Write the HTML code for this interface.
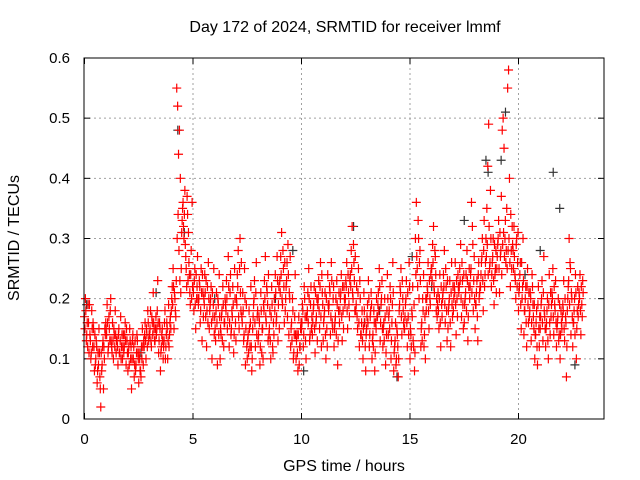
<!DOCTYPE html>
<html><head><meta charset="utf-8"><style>
body{margin:0;background:#fff;}
svg{display:block;font-family:"Liberation Sans",sans-serif;}
</style></head><body>
<svg id="chart" width="640" height="480">
<text x="345" y="32" text-anchor="middle" font-size="16">Day 172 of 2024, SRMTID for receiver lmmf</text>
<text x="344" y="471" text-anchor="middle" font-size="16">GPS time / hours</text>
<text transform="translate(19,238) rotate(-90)" text-anchor="middle" font-size="16">SRMTID / TECUs</text>
<g id="grid"></g>
<g id="ticks"></g>
<g id="black"></g>
<g id="red"></g>
<rect x="84" y="58" width="520" height="361" fill="none" stroke="#000" stroke-width="1"/>
</svg>
<script>
const xTicks=[0,5,10,15,20];
const yTicks=[0,0.1,0.2,0.3,0.4,0.5,0.6];
const yTickLabels=["0","0.1","0.2","0.3","0.4","0.5","0.6"];
const slotHours=[0,0.25,0.5,0.75,1,1.25,1.5,1.75,2,2.25,2.5,2.75,3,3.25,3.5,3.75,4,4.25,4.5,4.75,5,5.25,5.5,5.75,6,6.25,6.5,6.75,7,7.25,7.5,7.75,8,8.25,8.5,8.75,9,9.25,9.5,9.75,10,10.25,10.5,10.75,11,11.25,11.5,11.75,12,12.25,12.5,12.75,13,13.25,13.5,13.75,14,14.25,14.5,14.75,15,15.25,15.5,15.75,16,16.25,16.5,16.75,17,17.25,17.5,17.75,18,18.25,18.5,18.75,19,19.25,19.5,19.75,20,20.25,20.5,20.75,21,21.25,21.5,21.75,22,22.25,22.5,22.75];
const redValues=[
[0.17,0.20,0.13,0.16,0.19,0.11],[0.14,0.10,0.18,0.12,0.15,0.08],[0.09,0.13,0.06,0.11,0.15,0.07],[0.02,0.08,0.12,0.05,0.10,0.14],
[0.15,0.19,0.11,0.17,0.13,0.20],[0.12,0.16,0.10,0.14,0.18,0.11],[0.13,0.09,0.15,0.11,0.17,0.12],[0.10,0.14,0.12,0.16,0.09,0.13],
[0.08,0.12,0.15,0.10,0.05,0.13],[0.10,0.07,0.13,0.09,0.14,0.11],[0.06,0.10,0.08,0.12,0.15,0.09],[0.12,0.16,0.10,0.14,0.18,0.13],
[0.14,0.18,0.12,0.16,0.21,0.15],[0.13,0.17,0.15,0.23,0.11,0.16],[0.08,0.12,0.15,0.10,0.13,0.18],[0.12,0.16,0.10,0.19,0.14,0.17],
[0.18,0.22,0.25,0.15,0.20,0.17],[0.55,0.52,0.44,0.48,0.40,0.25],[0.33,0.36,0.30,0.38,0.27,0.22],[0.34,0.31,0.24,0.19,0.28,0.36],
[0.22,0.18,0.25,0.15,0.20,0.27],[0.19,0.23,0.16,0.25,0.13,0.21],[0.20,0.24,0.17,0.12,0.22,0.26],[0.15,0.19,0.22,0.10,0.17,0.25],
[0.17,0.13,0.21,0.09,0.19,0.24],[0.10,0.14,0.18,0.22,0.12,0.16],[0.19,0.23,0.15,0.27,0.12,0.21],[0.14,0.18,0.22,0.11,0.25,0.16],
[0.20,0.24,0.28,0.15,0.30,0.18],[0.17,0.21,0.13,0.25,0.09,0.19],[0.10,0.14,0.18,0.12,0.22,0.08],[0.15,0.19,0.23,0.12,0.26,0.17],
[0.13,0.17,0.09,0.21,0.11,0.15],[0.19,0.23,0.27,0.16,0.21,0.13],[0.14,0.18,0.10,0.22,0.12,0.16],[0.20,0.24,0.16,0.27,0.13,0.22],
[0.23,0.27,0.31,0.19,0.25,0.16],[0.18,0.22,0.26,0.29,0.14,0.20],[0.12,0.16,0.20,0.10,0.14,0.24],[0.10,0.14,0.08,0.17,0.12,0.15],
[0.15,0.19,0.12,0.22,0.17,0.10],[0.17,0.21,0.25,0.13,0.19,0.15],[0.14,0.18,0.22,0.11,0.16,0.20],[0.19,0.23,0.15,0.26,0.12,0.21],
[0.13,0.17,0.21,0.10,0.15,0.24],[0.18,0.22,0.14,0.26,0.16,0.20],[0.12,0.16,0.20,0.23,0.09,0.18],[0.16,0.20,0.24,0.13,0.18,0.22],
[0.19,0.23,0.26,0.15,0.21,0.17],[0.24,0.28,0.32,0.20,0.26,0.18],[0.18,0.22,0.15,0.25,0.12,0.20],[0.14,0.18,0.10,0.21,0.16,0.08],
[0.15,0.19,0.23,0.12,0.17,0.21],[0.10,0.14,0.18,0.08,0.16,0.20],[0.17,0.21,0.25,0.13,0.19,0.23],[0.12,0.16,0.20,0.09,0.14,0.24],
[0.14,0.18,0.22,0.10,0.16,0.26],[0.08,0.12,0.16,0.10,0.14,0.07],[0.18,0.22,0.25,0.14,0.20,0.16],[0.15,0.19,0.23,0.12,0.17,0.26],
[0.10,0.14,0.18,0.22,0.12,0.08],[0.30,0.36,0.25,0.33,0.20,0.28],[0.12,0.16,0.20,0.24,0.14,0.10],[0.18,0.22,0.26,0.15,0.20,0.24],
[0.25,0.29,0.32,0.21,0.27,0.18],[0.17,0.21,0.15,0.24,0.12,0.19],[0.20,0.24,0.28,0.16,0.22,0.13],[0.15,0.19,0.23,0.12,0.26,0.17],
[0.18,0.22,0.26,0.14,0.20,0.24],[0.21,0.25,0.29,0.17,0.23,0.15],[0.16,0.20,0.24,0.28,0.13,0.22],[0.20,0.24,0.36,0.32,0.18,0.27],
[0.15,0.19,0.23,0.13,0.26,0.21],[0.22,0.26,0.30,0.18,0.33,0.24],[0.30,0.35,0.42,0.49,0.25,0.38],[0.22,0.26,0.30,0.19,0.24,0.28],
[0.25,0.29,0.33,0.21,0.27,0.37],[0.48,0.50,0.45,0.30,0.26,0.35],[0.55,0.58,0.40,0.22,0.28,0.32],[0.28,0.32,0.24,0.20,0.30,0.26],
[0.18,0.22,0.26,0.15,0.20,0.30],[0.14,0.18,0.22,0.12,0.25,0.16],[0.17,0.21,0.13,0.24,0.19,0.15],[0.10,0.14,0.18,0.09,0.22,0.12],
[0.15,0.19,0.23,0.13,0.27,0.17],[0.12,0.16,0.20,0.10,0.24,0.14],[0.17,0.21,0.25,0.14,0.19,0.23],[0.12,0.16,0.20,0.14,0.10,0.18],
[0.15,0.19,0.23,0.13,0.17,0.07],[0.18,0.22,0.30,0.26,0.14,0.20],[0.12,0.16,0.20,0.24,0.10,0.18],[0.17,0.21,0.24,0.14,0.19,0.23]];
const redValues2=[
[0.15,0.18,0.14,0.12,0.16,0.19],[0.13,0.11,0.15,0.16,0.12,0.14],[0.10,0.12,0.08,0.09,0.11,0.05],[0.11,0.09,0.13,0.12,0.15,0.16],
[0.14,0.16,0.12,0.15,0.18,0.13],[0.11,0.13,0.15,0.12,0.14,0.13],[0.12,0.14,0.11,0.13,0.10,0.14],[0.12,0.11,0.14,0.13,0.15,0.11],
[0.11,0.09,0.13,0.12,0.10,0.14],[0.12,0.09,0.08,0.11,0.13,0.10],[0.11,0.08,0.07,0.10,0.12,0.13],[0.14,0.13,0.15,0.12,0.16,0.14],
[0.15,0.13,0.17,0.14,0.16,0.13],[0.15,0.14,0.18,0.16,0.13,0.15],[0.11,0.14,0.13,0.12,0.16,0.10],[0.14,0.15,0.13,0.12,0.16,0.15],
[0.20,0.19,0.22,0.21,0.18,0.23],[0.30,0.34,0.28,0.23,0.21,0.31],[0.35,0.32,0.34,0.29,0.25,0.37],[0.23,0.26,0.21,0.24,0.20,0.22],
[0.21,0.23,0.19,0.24,0.22,0.20],[0.20,0.22,0.18,0.21,0.24,0.17],[0.19,0.21,0.23,0.18,0.16,0.20],[0.18,0.20,0.16,0.21,0.19,0.14],
[0.15,0.18,0.16,0.20,0.14,0.17],[0.15,0.17,0.13,0.19,0.16,0.20],[0.18,0.20,0.17,0.22,0.16,0.24],[0.15,0.17,0.19,0.14,0.20,0.13],
[0.19,0.22,0.17,0.25,0.21,0.26],[0.16,0.18,0.14,0.20,0.15,0.12],[0.13,0.11,0.15,0.16,0.12,0.10],[0.17,0.20,0.16,0.21,0.14,0.18],
[0.14,0.16,0.12,0.18,0.15,0.10],[0.18,0.20,0.17,0.22,0.19,0.24],[0.15,0.13,0.17,0.19,0.11,0.14],[0.18,0.21,0.17,0.23,0.19,0.15],
[0.21,0.24,0.20,0.28,0.22,0.26],[0.20,0.23,0.17,0.24,0.21,0.27],[0.15,0.13,0.18,0.11,0.17,0.14],[0.13,0.11,0.14,0.09,0.12,0.16],
[0.16,0.18,0.14,0.20,0.13,0.17],[0.18,0.16,0.20,0.14,0.22,0.17],[0.16,0.19,0.15,0.21,0.17,0.13],[0.20,0.18,0.22,0.17,0.24,0.19],
[0.16,0.18,0.14,0.20,0.12,0.19],[0.19,0.21,0.17,0.23,0.15,0.22],[0.15,0.17,0.14,0.19,0.13,0.21],[0.18,0.21,0.17,0.22,0.15,0.20],
[0.20,0.22,0.18,0.24,0.19,0.23],[0.22,0.25,0.21,0.29,0.23,0.27],[0.19,0.17,0.21,0.16,0.23,0.14],[0.16,0.13,0.15,0.18,0.12,0.14],
[0.17,0.16,0.20,0.14,0.18,0.19],[0.13,0.12,0.16,0.11,0.15,0.17],[0.19,0.18,0.22,0.16,0.20,0.15],[0.15,0.13,0.17,0.11,0.18,0.20],
[0.17,0.15,0.20,0.13,0.19,0.21],[0.11,0.13,0.09,0.15,0.12,0.10],[0.19,0.21,0.17,0.23,0.18,0.15],[0.17,0.20,0.16,0.21,0.14,0.22],
[0.15,0.12,0.17,0.13,0.19,0.11],[0.24,0.27,0.22,0.30,0.26,0.23],[0.15,0.13,0.18,0.12,0.17,0.20],[0.20,0.21,0.18,0.23,0.19,0.25],
[0.23,0.26,0.22,0.28,0.24,0.20],[0.19,0.18,0.20,0.16,0.22,0.17],[0.21,0.22,0.19,0.25,0.18,0.23],[0.18,0.20,0.16,0.21,0.19,0.22],
[0.20,0.21,0.19,0.23,0.17,0.22],[0.22,0.23,0.20,0.26,0.19,0.24],[0.19,0.21,0.18,0.23,0.17,0.25],[0.22,0.25,0.21,0.29,0.23,0.20],
[0.19,0.21,0.17,0.24,0.20,0.22],[0.24,0.27,0.23,0.28,0.22,0.26],[0.27,0.29,0.24,0.32,0.26,0.30],[0.24,0.27,0.23,0.29,0.25,0.21],
[0.27,0.30,0.25,0.31,0.28,0.24],[0.29,0.31,0.27,0.33,0.28,0.25],[0.28,0.30,0.26,0.34,0.25,0.29],[0.25,0.27,0.23,0.29,0.22,0.31],
[0.21,0.24,0.19,0.26,0.22,0.23],[0.18,0.20,0.16,0.22,0.19,0.21],[0.18,0.20,0.16,0.22,0.17,0.19],[0.14,0.16,0.12,0.19,0.15,0.17],
[0.17,0.20,0.16,0.21,0.18,0.15],[0.15,0.18,0.13,0.19,0.16,0.21],[0.19,0.20,0.17,0.22,0.18,0.16],[0.15,0.17,0.13,0.19,0.14,0.16],
[0.17,0.18,0.15,0.20,0.16,0.12],[0.20,0.23,0.19,0.25,0.21,0.17],[0.16,0.18,0.14,0.21,0.15,0.22],[0.19,0.20,0.18,0.22,0.17,0.21]];
const blackHours=[0.1,2.6,3.3,4.3,4.6,6.0,8.8,9.6,10.1,12.4,12.9,13.6,14.4,15.1,16.0,17.5,18.5,18.6,19.2,19.4,20.3,21.0,21.6,21.9,22.6];
const blackValues=[0.19,0.11,0.21,0.48,0.31,0.20,0.20,0.28,0.08,0.32,0.16,0.18,0.07,0.27,0.22,0.33,0.43,0.41,0.43,0.51,0.24,0.28,0.41,0.35,0.09];

const NS="http://www.w3.org/2000/svg";
const X0=84.5,PXH=21.7,Y0=419,PXV=601.7;
function xs(h){return X0+h*PXH;}
function ys(v){return Y0-v*PXV;}
function mk(tag,attrs,parent){const e=document.createElementNS(NS,tag);for(const k in attrs)e.setAttribute(k,attrs[k]);parent.appendChild(e);return e;}
const grid=document.getElementById('grid'),ticks=document.getElementById('ticks');
xTicks.forEach(t=>{
  const x=xs(t);
  if(t>0){const g=mk('line',{x1:x,x2:x,y1:58,y2:419,stroke:'#a0a0a0','stroke-dasharray':'2,3'},grid);
  
  }
  const tk=mk('line',{x1:x,x2:x,y1:419,y2:413,stroke:'#000'},ticks);
  
  
  const tk2=mk('line',{x1:x,x2:x,y1:58,y2:64,stroke:'#000'},ticks);
  
  
  const l=mk('text',{x:x,y:444,'text-anchor':'middle','font-size':15},ticks);l.textContent=String(t);
  
  
});
yTicks.forEach((t,i)=>{
  const y=ys(t);
  if(t>0&&t<0.6){const g=mk('line',{x1:84,x2:604,y1:y,y2:y,stroke:'#a0a0a0','stroke-dasharray':'2,3'},grid);
  
  }
  const tk=mk('line',{x1:84,x2:90,y1:y,y2:y,stroke:'#000'},ticks);
  
  
  const tk2=mk('line',{x1:598,x2:604,y1:y,y2:y,stroke:'#000'},ticks);
  
  
  const l=mk('text',{x:70,y:y+5,'text-anchor':'end','font-size':15},ticks);l.textContent=yTickLabels[i];
  
  
});
function plus(parent,x,y,color,name){
  const p=mk('path',{d:`M${x-4.5},${y}H${x+4.5}M${x},${y-4.5}V${y+4.5}`,stroke:color,'stroke-width':1.2,fill:'none'},parent);
  
  
}
const blackG=document.getElementById('black'),redG=document.getElementById('red');
blackHours.forEach((h,i)=>plus(blackG,xs(h),ys(blackValues[i]),'#333','black-point'));
slotHours.forEach((h,i)=>{
  redValues[i].forEach((v,j)=>plus(redG,xs(h+j*0.25/6),ys(v),'#ff0000','red-point'));
  redValues2[i].forEach((v,j)=>plus(redG,xs(h+0.02+j*0.25/6),ys(v),'#ff0000','red-point'));
});
</script>
</body></html>
